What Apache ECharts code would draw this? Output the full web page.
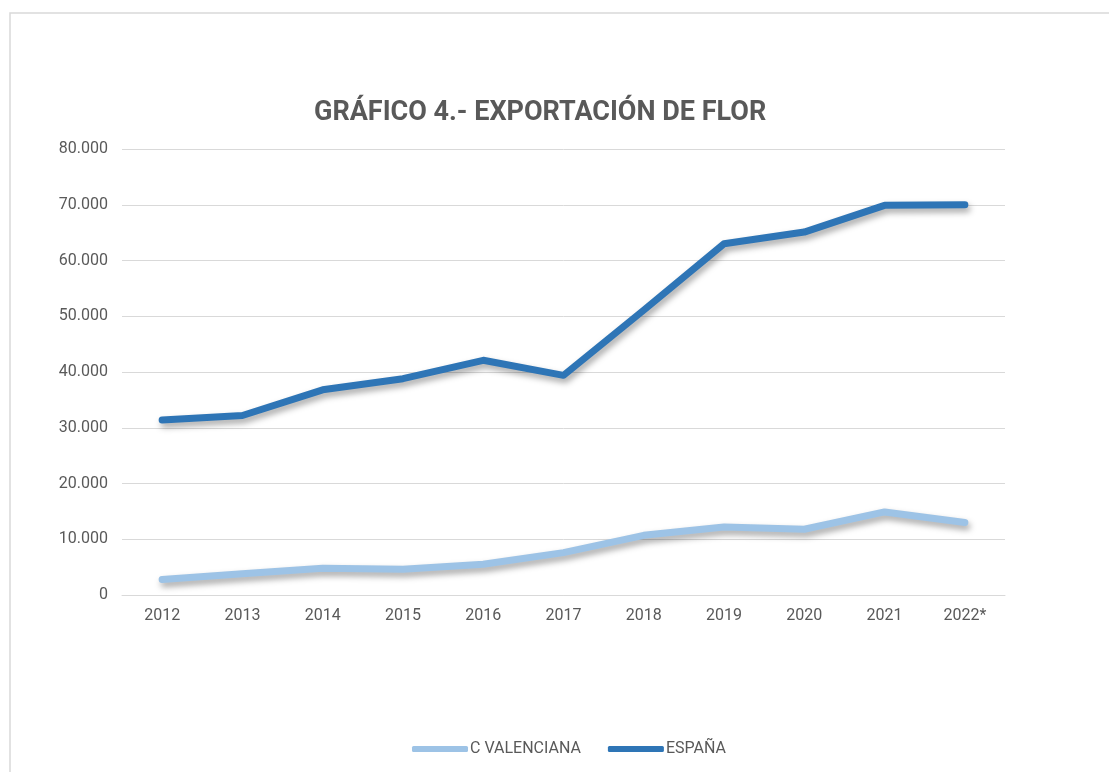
<!DOCTYPE html>
<html>
<head>
<meta charset="utf-8">
<title>Gráfico 4 - Exportación de flor</title>
<script src="https://cdn.jsdelivr.net/npm/echarts@6/dist/echarts.min.js"></script>
<style>
    html, body { margin: 0; padding: 0; background: #fff; }
    #main { width: 1109px; height: 772px; }
</style>
</head>
<body>
<div id="main"></div>
<script>
var years = ['2012', '2013', '2014', '2015', '2016', '2017', '2018', '2019', '2020', '2021', '2022*'];
var cValenciana = [2800, 3800, 4800, 4600, 5500, 7600, 10700, 12200, 11800, 14900, 13000];
var espana = [31400, 32200, 36800, 38800, 42100, 39400, 51100, 63000, 65100, 69900, 70000];
var yTicks = { min: 0, max: 80000, interval: 10000 };

var myChart = echarts.init(document.getElementById('main'));
var lineShadow = {
    shadowColor: 'rgba(0, 0, 0, 0.35)',
    shadowBlur: 6,
    shadowOffsetX: 2,
    shadowOffsetY: 4
};

var option = {
    backgroundColor: '#fff',
    textStyle: { fontFamily: 'Roboto' },
    graphic: [{
        type: 'rect',
        shape: { x: 10, y: 13, width: 1200, height: 900 },
        style: { fill: 'none', stroke: '#d9d9d9', lineWidth: 1.5 },
        silent: true
    }],
    title: {
        text: 'GRÁFICO 4.- EXPORTACIÓN DE FLOR',
        left: 309,
        top: 95,
        textStyle: {
            fontFamily: 'Roboto',
            fontSize: 27,
            fontWeight: 'bold',
            color: '#595959'
        }
    },
    legend: {
        left: 407,
        top: 736,
        icon: 'roundRect',
        itemWidth: 56,
        itemHeight: 6,
        itemGap: 27,
        textStyle: { fontSize: 16, color: '#595959', padding: [0, 0, 0, -3] },
        data: ['C VALENCIANA', 'ESPAÑA']
    },
    grid: {
        left: 122,
        right: 104,
        top: 149,
        bottom: 177
    },
    xAxis: {
        type: 'category',
        data: years,
        boundaryGap: true,
        axisLine: { lineStyle: { color: '#d9d9d9', width: 1 } },
        axisTick: { show: false },
        axisLabel: { color: '#595959', fontSize: 16, margin: 13 }
    },
    yAxis: {
        type: 'value',
        min: yTicks.min,
        max: yTicks.max,
        interval: yTicks.interval,
        axisLine: { show: false },
        axisTick: { show: false },
        splitLine: { lineStyle: { color: '#d9d9d9', width: 1 } },
        axisLabel: {
            color: '#595959',
            fontSize: 16,
            margin: 14,
            formatter: function (v) {
                return v === 0 ? '0' : (v / 1000).toFixed(0) + '.000';
            }
        }
    },
    series: [{
        name: 'C VALENCIANA',
        type: 'line',
        data: cValenciana,
        symbol: 'none',
        color: '#9DC3E6',
        lineStyle: Object.assign({ width: 7, color: '#9DC3E6', cap: 'round', join: 'round' }, lineShadow)
    }, {
        name: 'ESPAÑA',
        type: 'line',
        data: espana,
        symbol: 'none',
        color: '#2E75B6',
        lineStyle: Object.assign({ width: 7, color: '#2E75B6', cap: 'round', join: 'round' }, lineShadow)
    }]
};
myChart.setOption(option);
</script>
</body>
</html>
